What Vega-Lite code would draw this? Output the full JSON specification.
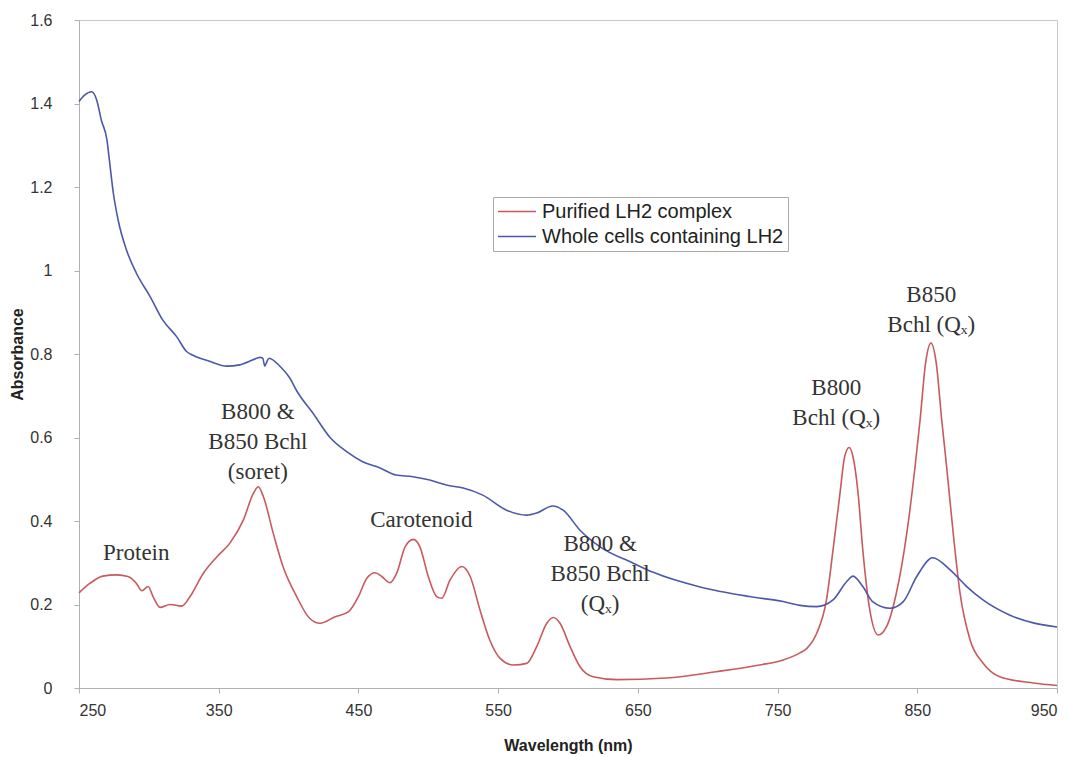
{
  "$schema": "https://vega.github.io/schema/vega-lite/v6.json",
  "width": 978,
  "height": 668,
  "autosize": {"type": "none"},
  "padding": {"left": 79, "top": 20, "right": 14, "bottom": 69},
  "background": "white",
  "config": {
    "view": {"stroke": "#c8c8c8", "strokeWidth": 1},
    "axis": {"labelFont": "Liberation Sans", "titleFont": "Liberation Sans", "labelColor": "#333", "titleColor": "#222", "domainColor": "#b0b0b0", "tickColor": "#b0b0b0", "grid": false, "labelFontSize": 16, "titleFontSize": 16, "titleFontWeight": "bold"},
    "legend": {"labelFont": "Liberation Sans", "labelFontSize": 20, "labelColor": "#222", "labelLimit": 0}
  },
  "datasets": {
    "spectra": [
      {"series": "Purified LH2 complex", "wl": 250, "abs": 0.228},
      {"series": "Purified LH2 complex", "wl": 258, "abs": 0.251},
      {"series": "Purified LH2 complex", "wl": 267, "abs": 0.268},
      {"series": "Purified LH2 complex", "wl": 277, "abs": 0.271},
      {"series": "Purified LH2 complex", "wl": 285, "abs": 0.267},
      {"series": "Purified LH2 complex", "wl": 291, "abs": 0.251},
      {"series": "Purified LH2 complex", "wl": 295, "abs": 0.233},
      {"series": "Purified LH2 complex", "wl": 299.5, "abs": 0.243},
      {"series": "Purified LH2 complex", "wl": 303, "abs": 0.219},
      {"series": "Purified LH2 complex", "wl": 308, "abs": 0.193},
      {"series": "Purified LH2 complex", "wl": 315, "abs": 0.2},
      {"series": "Purified LH2 complex", "wl": 323.5, "abs": 0.196},
      {"series": "Purified LH2 complex", "wl": 329.5, "abs": 0.219},
      {"series": "Purified LH2 complex", "wl": 339, "abs": 0.275},
      {"series": "Purified LH2 complex", "wl": 348.6, "abs": 0.314},
      {"series": "Purified LH2 complex", "wl": 358, "abs": 0.347},
      {"series": "Purified LH2 complex", "wl": 367.6, "abs": 0.402},
      {"series": "Purified LH2 complex", "wl": 374.8, "abs": 0.466},
      {"series": "Purified LH2 complex", "wl": 378.3, "abs": 0.482},
      {"series": "Purified LH2 complex", "wl": 382, "abs": 0.458},
      {"series": "Purified LH2 complex", "wl": 389, "abs": 0.371},
      {"series": "Purified LH2 complex", "wl": 396, "abs": 0.291},
      {"series": "Purified LH2 complex", "wl": 405.8, "abs": 0.219},
      {"series": "Purified LH2 complex", "wl": 415, "abs": 0.167},
      {"series": "Purified LH2 complex", "wl": 422.5, "abs": 0.155},
      {"series": "Purified LH2 complex", "wl": 433, "abs": 0.17},
      {"series": "Purified LH2 complex", "wl": 443, "abs": 0.183},
      {"series": "Purified LH2 complex", "wl": 450, "abs": 0.219},
      {"series": "Purified LH2 complex", "wl": 456, "abs": 0.263},
      {"series": "Purified LH2 complex", "wl": 462, "abs": 0.276},
      {"series": "Purified LH2 complex", "wl": 466.7, "abs": 0.267},
      {"series": "Purified LH2 complex", "wl": 472.6, "abs": 0.252},
      {"series": "Purified LH2 complex", "wl": 477.4, "abs": 0.275},
      {"series": "Purified LH2 complex", "wl": 483.4, "abs": 0.338},
      {"series": "Purified LH2 complex", "wl": 489.3, "abs": 0.356},
      {"series": "Purified LH2 complex", "wl": 494, "abs": 0.338},
      {"series": "Purified LH2 complex", "wl": 500, "abs": 0.267},
      {"series": "Purified LH2 complex", "wl": 506, "abs": 0.219},
      {"series": "Purified LH2 complex", "wl": 509.6, "abs": 0.215},
      {"series": "Purified LH2 complex", "wl": 515.6, "abs": 0.259},
      {"series": "Purified LH2 complex", "wl": 524, "abs": 0.291},
      {"series": "Purified LH2 complex", "wl": 530, "abs": 0.267},
      {"series": "Purified LH2 complex", "wl": 537, "abs": 0.187},
      {"series": "Purified LH2 complex", "wl": 544, "abs": 0.115},
      {"series": "Purified LH2 complex", "wl": 551.4, "abs": 0.071},
      {"series": "Purified LH2 complex", "wl": 561, "abs": 0.055},
      {"series": "Purified LH2 complex", "wl": 570.5, "abs": 0.059},
      {"series": "Purified LH2 complex", "wl": 577.6, "abs": 0.099},
      {"series": "Purified LH2 complex", "wl": 584.8, "abs": 0.155},
      {"series": "Purified LH2 complex", "wl": 589.5, "abs": 0.169},
      {"series": "Purified LH2 complex", "wl": 594.3, "abs": 0.155},
      {"series": "Purified LH2 complex", "wl": 601.5, "abs": 0.099},
      {"series": "Purified LH2 complex", "wl": 608.6, "abs": 0.051},
      {"series": "Purified LH2 complex", "wl": 618, "abs": 0.027},
      {"series": "Purified LH2 complex", "wl": 635, "abs": 0.02},
      {"series": "Purified LH2 complex", "wl": 670, "abs": 0.024},
      {"series": "Purified LH2 complex", "wl": 706, "abs": 0.039},
      {"series": "Purified LH2 complex", "wl": 737, "abs": 0.055},
      {"series": "Purified LH2 complex", "wl": 754, "abs": 0.067},
      {"series": "Purified LH2 complex", "wl": 766, "abs": 0.084},
      {"series": "Purified LH2 complex", "wl": 771, "abs": 0.095},
      {"series": "Purified LH2 complex", "wl": 778, "abs": 0.131},
      {"series": "Purified LH2 complex", "wl": 785, "abs": 0.211},
      {"series": "Purified LH2 complex", "wl": 789.7, "abs": 0.331},
      {"series": "Purified LH2 complex", "wl": 794.7, "abs": 0.467},
      {"series": "Purified LH2 complex", "wl": 798, "abs": 0.554},
      {"series": "Purified LH2 complex", "wl": 801.2, "abs": 0.576},
      {"series": "Purified LH2 complex", "wl": 804, "abs": 0.554},
      {"series": "Purified LH2 complex", "wl": 807.6, "abs": 0.467},
      {"series": "Purified LH2 complex", "wl": 811, "abs": 0.331},
      {"series": "Purified LH2 complex", "wl": 816, "abs": 0.187},
      {"series": "Purified LH2 complex", "wl": 822, "abs": 0.127},
      {"series": "Purified LH2 complex", "wl": 828, "abs": 0.147},
      {"series": "Purified LH2 complex", "wl": 835, "abs": 0.227},
      {"series": "Purified LH2 complex", "wl": 842.5, "abs": 0.371},
      {"series": "Purified LH2 complex", "wl": 848.4, "abs": 0.53},
      {"series": "Purified LH2 complex", "wl": 852, "abs": 0.642},
      {"series": "Purified LH2 complex", "wl": 856, "abs": 0.78},
      {"series": "Purified LH2 complex", "wl": 859.8, "abs": 0.826},
      {"series": "Purified LH2 complex", "wl": 863.5, "abs": 0.78},
      {"series": "Purified LH2 complex", "wl": 867.5, "abs": 0.642},
      {"series": "Purified LH2 complex", "wl": 871, "abs": 0.53},
      {"series": "Purified LH2 complex", "wl": 875.7, "abs": 0.371},
      {"series": "Purified LH2 complex", "wl": 880.6, "abs": 0.227},
      {"series": "Purified LH2 complex", "wl": 887.8, "abs": 0.115},
      {"series": "Purified LH2 complex", "wl": 897, "abs": 0.06},
      {"series": "Purified LH2 complex", "wl": 909, "abs": 0.027},
      {"series": "Purified LH2 complex", "wl": 933, "abs": 0.012},
      {"series": "Purified LH2 complex", "wl": 950, "abs": 0.006},
      {"series": "Whole cells containing LH2", "wl": 250, "abs": 1.405},
      {"series": "Whole cells containing LH2", "wl": 254, "abs": 1.42},
      {"series": "Whole cells containing LH2", "wl": 259, "abs": 1.428},
      {"series": "Whole cells containing LH2", "wl": 262.7, "abs": 1.408},
      {"series": "Whole cells containing LH2", "wl": 266, "abs": 1.36},
      {"series": "Whole cells containing LH2", "wl": 270, "abs": 1.313},
      {"series": "Whole cells containing LH2", "wl": 272, "abs": 1.257},
      {"series": "Whole cells containing LH2", "wl": 274.6, "abs": 1.185},
      {"series": "Whole cells containing LH2", "wl": 278, "abs": 1.121},
      {"series": "Whole cells containing LH2", "wl": 284, "abs": 1.049},
      {"series": "Whole cells containing LH2", "wl": 291, "abs": 0.994},
      {"series": "Whole cells containing LH2", "wl": 301, "abs": 0.937},
      {"series": "Whole cells containing LH2", "wl": 310, "abs": 0.881},
      {"series": "Whole cells containing LH2", "wl": 320, "abs": 0.841},
      {"series": "Whole cells containing LH2", "wl": 327, "abs": 0.806},
      {"series": "Whole cells containing LH2", "wl": 331.6, "abs": 0.797},
      {"series": "Whole cells containing LH2", "wl": 344, "abs": 0.782},
      {"series": "Whole cells containing LH2", "wl": 355.7, "abs": 0.771},
      {"series": "Whole cells containing LH2", "wl": 365, "abs": 0.774},
      {"series": "Whole cells containing LH2", "wl": 374.6, "abs": 0.786},
      {"series": "Whole cells containing LH2", "wl": 379.6, "abs": 0.792},
      {"series": "Whole cells containing LH2", "wl": 381.5, "abs": 0.79},
      {"series": "Whole cells containing LH2", "wl": 383, "abs": 0.771},
      {"series": "Whole cells containing LH2", "wl": 384.5, "abs": 0.782},
      {"series": "Whole cells containing LH2", "wl": 386, "abs": 0.79},
      {"series": "Whole cells containing LH2", "wl": 394, "abs": 0.77},
      {"series": "Whole cells containing LH2", "wl": 401, "abs": 0.742},
      {"series": "Whole cells containing LH2", "wl": 405.8, "abs": 0.712},
      {"series": "Whole cells containing LH2", "wl": 417.5, "abs": 0.658},
      {"series": "Whole cells containing LH2", "wl": 429.7, "abs": 0.6},
      {"series": "Whole cells containing LH2", "wl": 441.6, "abs": 0.566},
      {"series": "Whole cells containing LH2", "wl": 453, "abs": 0.542},
      {"series": "Whole cells containing LH2", "wl": 465.5, "abs": 0.527},
      {"series": "Whole cells containing LH2", "wl": 477, "abs": 0.51},
      {"series": "Whole cells containing LH2", "wl": 489, "abs": 0.506},
      {"series": "Whole cells containing LH2", "wl": 501, "abs": 0.498},
      {"series": "Whole cells containing LH2", "wl": 513, "abs": 0.486},
      {"series": "Whole cells containing LH2", "wl": 525, "abs": 0.479},
      {"series": "Whole cells containing LH2", "wl": 539, "abs": 0.462},
      {"series": "Whole cells containing LH2", "wl": 556, "abs": 0.426},
      {"series": "Whole cells containing LH2", "wl": 570.5, "abs": 0.414},
      {"series": "Whole cells containing LH2", "wl": 577.6, "abs": 0.419},
      {"series": "Whole cells containing LH2", "wl": 589, "abs": 0.436},
      {"series": "Whole cells containing LH2", "wl": 596.5, "abs": 0.426},
      {"series": "Whole cells containing LH2", "wl": 608.6, "abs": 0.378},
      {"series": "Whole cells containing LH2", "wl": 623, "abs": 0.338},
      {"series": "Whole cells containing LH2", "wl": 646.7, "abs": 0.299},
      {"series": "Whole cells containing LH2", "wl": 661, "abs": 0.277},
      {"series": "Whole cells containing LH2", "wl": 694.5, "abs": 0.242},
      {"series": "Whole cells containing LH2", "wl": 730, "abs": 0.219},
      {"series": "Whole cells containing LH2", "wl": 754, "abs": 0.207},
      {"series": "Whole cells containing LH2", "wl": 766, "abs": 0.198},
      {"series": "Whole cells containing LH2", "wl": 778, "abs": 0.195},
      {"series": "Whole cells containing LH2", "wl": 789.7, "abs": 0.211},
      {"series": "Whole cells containing LH2", "wl": 799.5, "abs": 0.255},
      {"series": "Whole cells containing LH2", "wl": 804, "abs": 0.268},
      {"series": "Whole cells containing LH2", "wl": 811, "abs": 0.243},
      {"series": "Whole cells containing LH2", "wl": 818, "abs": 0.207},
      {"series": "Whole cells containing LH2", "wl": 830.5, "abs": 0.191},
      {"series": "Whole cells containing LH2", "wl": 840, "abs": 0.207},
      {"series": "Whole cells containing LH2", "wl": 849.6, "abs": 0.267},
      {"series": "Whole cells containing LH2", "wl": 861, "abs": 0.312},
      {"series": "Whole cells containing LH2", "wl": 873.5, "abs": 0.283},
      {"series": "Whole cells containing LH2", "wl": 885.4, "abs": 0.243},
      {"series": "Whole cells containing LH2", "wl": 897, "abs": 0.211},
      {"series": "Whole cells containing LH2", "wl": 916, "abs": 0.175},
      {"series": "Whole cells containing LH2", "wl": 933, "abs": 0.156},
      {"series": "Whole cells containing LH2", "wl": 950, "abs": 0.146}
    ],
    "notes": [
      {"label": "Protein", "wl": 291, "abs": 0.323},
      {"label": "B800 &|B850 Bchl|(soret)", "wl": 378, "abs": 0.661},
      {"label": "Carotenoid", "wl": 495, "abs": 0.402},
      {"label": "B800 &|B850 Bchl|(Qₓ)", "wl": 623, "abs": 0.345},
      {"label": "B800|Bchl (Qₓ)", "wl": 792, "abs": 0.719},
      {"label": "B850|Bchl (Qₓ)", "wl": 860, "abs": 0.941}
    ]
  },
  "layer": [
    {
      "data": {"name": "spectra"},
      "mark": {"type": "line", "strokeWidth": 1.6, "interpolate": "monotone"},
      "encoding": {
        "x": {"field": "wl", "type": "quantitative", "scale": {"domain": [250, 950], "nice": false, "zero": false},
              "axis": {"values": [250, 350, 450, 550, 650, 750, 850, 950], "title": "Wavelength (nm)", "tickSize": 5, "labelPadding": 9, "titlePadding": 19}},
        "y": {"field": "abs", "type": "quantitative", "scale": {"domain": [0, 1.6], "nice": false},
              "axis": {"values": [0, 0.2, 0.4, 0.6, 0.8, 1, 1.2, 1.4, 1.6], "format": ".2~f", "title": "Absorbance", "tickSize": 5, "labelPadding": 22, "titlePadding": 4}},
        "color": {"field": "series", "type": "nominal",
                  "scale": {"domain": ["Purified LH2 complex", "Whole cells containing LH2"], "range": ["#c85a5e", "#4c58aa"]},
                  "legend": {"title": null, "orient": "none", "legendX": 414, "legendY": 177, "symbolType": "M-1,0L3,0", "symbolSize": 361, "symbolStrokeWidth": 1.6, "symbolFillColor": "transparent", "strokeColor": "#aaa", "fillColor": "white", "padding": 4, "rowPadding": 4, "labelOffset": 24}},
        "order": {"field": "wl", "type": "quantitative"}
      }
    },
    {
      "data": {"name": "notes"},
      "mark": {"type": "text", "font": "Liberation Serif", "fontSize": 23, "color": "#333", "lineBreak": "|", "lineHeight": 30, "align": "center", "baseline": "middle"},
      "encoding": {
        "x": {"field": "wl", "type": "quantitative"},
        "y": {"field": "abs", "type": "quantitative"},
        "text": {"field": "label", "type": "nominal"}
      }
    }
  ]
}
